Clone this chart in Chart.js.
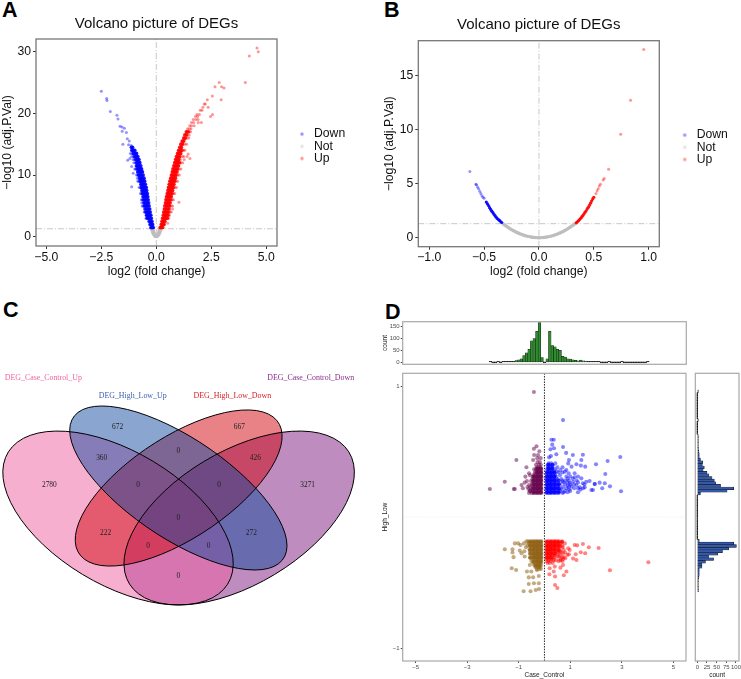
<!DOCTYPE html>
<html><head><meta charset="utf-8">
<script src="https://cdn.jsdelivr.net/npm/chart.js@4"></script>
<style>
html,body{margin:0;padding:0;background:#fff;width:741px;height:679px;overflow:hidden}
canvas{position:absolute;display:block}
.tag{position:absolute;font:bold 21.5px/1 "Liberation Sans",Arial,sans-serif;color:#000}
</style></head><body>
<div class="tag" style="left:2px;top:0">A</div>
<div class="tag" style="left:384px;top:0">B</div>
<div class="tag" style="left:3px;top:300px">C</div>
<div class="tag" style="left:385px;top:302px">D</div>
<script>
// ---------- Panel A (rows are [y, x, x, ...]) ----------
const volcanoTitle = 'Volcano picture of DEGs';
const aTicksX = [-5, -2.5, 0, 2.5, 5];
const aTicksY = [0, 10, 20, 30];
const aCutoff = 1.3;
const aDownCoreRows = [[1.5,-.14,-.19,-.24],[2,-.17,-.22,-.28],[2.5,-.2,-.26,-.32],[3,-.23,-.29,-.35,-.41],[3.5,-.25,-.31,-.38,-.44],[4,-.28,-.34,-.41,-.47],[4.5,-.3,-.37,-.44,-.51],[5,-.33,-.4,-.47,-.54],[5.5,-.35,-.42,-.49,-.56],[6,-.37,-.44,-.51,-.58],[6.5,-.39,-.46,-.53,-.6],[7,-.41,-.48,-.55,-.62],[7.5,-.44,-.51,-.58,-.65],[8,-.46,-.53,-.6,-.67],[8.5,-.5,-.57,-.64,-.7],[9,-.53,-.6,-.67,-.73],[9.5,-.56,-.63,-.7,-.76],[10,-.6,-.67,-.74,-.8],[10.5,-.63,-.7,-.77,-.84],[11,-.67,-.74,-.81,-.87],[11.5,-.71,-.78,-.85,-.9],[12,-.75,-.82,-.89],[12.5,-.79,-.86,-.93],[13,-.84,-.91,-.98],[13.5,-.9,-.97,-1.04],[14,-.98,-1.05,-1.11],[14.5,-1.08,-1.13]];
const aDownRows = [[23.6,-2.5],[22.4,-2.26],[22.1,-2.24],[20.3,-2.09],[19.7,-1.79],[19.1,-1.74],[17.9,-1.65],[17.8,-1.56],[17.6,-1.45],[17.1,-1.55],[16.9,-1.36],[15.9,-1.32],[15.5,-1.23],[15,-1.52],[14.9,-1.26],[14.8,-1.14],[12.4,-1.3],[12.7,-1.2],[11.4,-1.12],[10.3,-1.05],[8.1,-1.12],[9.5,-.86],[7,-.62],[3,-.47],[4,-.52,-.55],[5,-.6,-.64],[5.5,-.66],[6,-.64,-.68],[7,-.68,-.72],[8,-.73,-.78],[9,-.8,-.84],[10,-.86,-.9],[11,-.94,-.98],[12,-.96,-1.02],[12.5,-1,-1.06],[13,-1.05,-1.12],[13.5,-1.1,-1.18]];
const aUpCoreRows = [[1.5,.18,.23,.29],[2,.23,.29,.35],[2.5,.26,.32,.39],[3,.29,.36,.43,.5],[3.5,.32,.39,.46,.53],[4,.34,.41,.48,.55],[4.5,.37,.44,.51,.58],[5,.39,.46,.53,.6],[5.5,.42,.49,.56,.63],[6,.44,.51,.58,.65],[6.5,.47,.54,.61,.68],[7,.5,.57,.64,.71],[7.5,.53,.6,.67,.74],[8,.56,.63,.7,.77],[8.5,.59,.66,.73,.8],[9,.62,.69,.76,.83],[9.5,.66,.73,.8,.87],[10,.69,.76,.83,.9],[10.5,.73,.8,.87,.94],[11,.76,.83,.9,.97],[11.5,.8,.87,.94,1.01],[12,.84,.91,.98,1.05],[12.5,.88,.95,1.02],[13,.92,.99,1.06],[13.5,.97,1.04,1.11],[14,1.02,1.09,1.16],[14.5,1.07,1.14],[15,1.12,1.19],[15.5,1.18,1.25],[16,1.25,1.32],[16.5,1.3,1.38],[17,1.37,1.45]];
const aUpRows = [[2.2,.52],[3,.56],[3.5,.6],[4,.63,.68],[4.5,.74],[5,.68,.74],[5.6,1.03],[6,.72,.78],[7,.78,.84],[8,.85,.92],[9,.9,.97],[10,.98,1.05],[11,1.04,1.12],[12,1.12,1.2],[12.5,1.1,1.27],[12.7,1.53],[13,1.18,1.25,1.4],[13.4,1.45],[14,1.24,1.3],[15,1.3,1.38],[16,1.4,1.48],[16.5,1.5],[17,1.5,1.56],[17.5,1.42,1.5,1.58],[18,1.52,1.6,1.72],[18.5,1.6,1.7,1.91,2.05],[19,1.68,1.8,1.9],[19.5,1.78,1.88,2.47],[19.8,1.85,1.96,2.56],[20.5,2,2.08],[21,2.12,2.36],[21.5,2.18,2.23],[22.2,2.32,2.95],[22.8,2.55],[24.3,2.67,2.97],[25,2.86,4.05],[24.1,3.08],[29.3,4.23],[30.6,4.58],[30,4.64]];
const aNotRows = [[1.25,-.22,.22,-.15,.15],[1.05,-.2,.2,-.13,.13],[.8,-.18,.18,-.11,.11],[.6,-.16,.16,-.09,.09],[.45,-.14,.14,-.07,.07],[.3,-.11,.11,-.04,.04],[.2,-.08,.08],[.1,-.06,.06],[.05,-.04,.04],[.02,-.02,.02],[0,0]];

// ---------- Panel B ----------
const bTicksX = [-1, -.5, 0, .5, 1];
const bTicksY = [0, 5, 10, 15];
const bCutoff = 1.3;
const bDownCoreRows = [[1.41,-.34],[1.5,-.35],[1.6,-.36],[1.68,-.37],[1.78,-.38],[1.9,-.39],[2.03,-.4],[2.17,-.41],[2.33,-.42],[2.46,-.43],[2.62,-.44],[2.78,-.45],[2.98,-.46],[3.15,-.47],[3.3,-.48]];
const bDownRows = [[3.65,-.5],[3.75,-.51],[3.9,-.52],[4.1,-.53],[4.3,-.54],[4.55,-.55],[4.7,-.56],[4.9,-.57],[4.95,-.575],[6.15,-.63]];
const bUpCoreRows = [[1.38,.34],[1.47,.35],[1.57,.36],[1.68,.37],[1.8,.38],[1.93,.39],[2.05,.4],[2.2,.41],[2.35,.42],[2.5,.43],[2.68,.44],[2.82,.45],[3,.46],[3.2,.47],[3.4,.48],[3.6,.49],[3.75,.5]];
const bUpRows = [[4.1,.52],[4.35,.53],[4.55,.54],[4.8,.55],[4.95,.56],[5.35,.585],[5.5,.595],[6.35,.635],[9.6,.745],[12.75,.835],[17.45,.955]];
const bNotRows = [[0,0,-.01,.01],[.01,-.02,.02,-.03,.03],[.02,-.04,.04],[.03,-.05,.05],[.04,-.06,.06],[.06,-.07,.07],[.08,-.08,.08],[.1,-.09,.09],[.12,-.1,.1],[.15,-.11,.11],[.17,-.12,.12],[.2,-.13,.13],[.24,-.14,.14],[.27,-.15,.15],[.31,-.16,.16],[.35,-.17,.17],[.39,-.18,.18],[.43,-.19,.19],[.48,-.2,.2],[.53,-.21,.21],[.58,-.22,.22],[.64,-.23,.23],[.69,-.24,.24],[.75,-.25,.25],[.81,-.26,.26],[.87,-.27,.27],[.94,-.28,.28],[1.01,-.29,.29],[1.08,-.3,.3],[1.15,-.31,.31],[1.23,-.32,.32],[1.31,-.33,.33]];

// ---------- Panel C ----------
const vennSets = ['DEG_Case_Control_Down','DEG_Case_Control_Up','DEG_High_Low_Down','DEG_High_Low_Up'];
const vennCounts = [2780,672,667,3271,360,426,0,0,0,0,222,272,0,0,0];
const vennCountX = [1.117,2.664,5.419,6.966,2.302,5.781,4.038,3.125,4.958,4.038,2.392,5.691,3.351,4.725,4.038];
const vennCountY = [4.95,6.68,6.68,4.95,5.77,5.77,5.96,4.95,4.95,3.95,3.5,3.5,3.13,3.13,2.22];
const vennEllipseX = [5.415,2.672,4.045,4.038];
const vennEllipseY = [3.96,3.96,4.86,4.86];
const vennEllipseA = [3.22,3.22,3.02,3.21];
const vennEllipseB = [1.8,1.8,1.36,1.34];
const vennEllipseTurn = [-45,45,-45,45];
const vennFill = ['rgba(125,25,125,.5)','rgba(239,95,161,.5)','rgba(209,5,15,.5)','rgba(21,75,161,.5)'];
const vennText = ['#8B2C8B','#F064A0','#D8202A','#3A5FB0'];
const vennSetX = [7.034,.981,5.26,3.004];
const vennSetY = [8.15,8.15,7.63,7.63];

// ---------- Panel D ----------
const dTicksX = [-5,-3,-1,1,3,5];
const dTicksY = [-1,1];
const dUpRightRows = [[.74,.72],[.59,.27,.36],[.553,.3],[.535,.72],[.525,.37],[.517,.23],[.49,.84],[.48,.46],[.476,1.49],[.474,1.1],[.466,.25],[.459,2.94],[.456,.18],[.436,.95,1.43],[.428,2.45],[.41,.16,.26,.42,.92],[.403,1.24,2],[.393,1.41],[.385,1.05,1.58],[.395,.12,.2,.32],[.38,.14,.22,.3,.5,.7],[.365,.1,.18,.26,.4],[.36,.62,.85],[.35,.12,.2,.28,.36,.48],[.347,.79],[.34,.55,.7],[.335,.09,.16,.24,.32,.4,.94,1.17],[.329,2.36],[.32,.1,.18,.25,.33,.42,.6],[.31,.85,1,1.3],[.304,1.17],[.305,.08,.15,.22,.29,.37,.45],[.296,1.43],[.295,.9,1.1],[.29,.1,.17,.24,.31,.38,.5,.66],[.28,.8,.95,1.25],[.276,1.75],[.275,.08,.14,.2,.28,.36,.44,.7],[.27,1.11,1.62],[.265,.72,.88,1.3],[.263,2.14],[.26,.1,.17,.24,.31,.39,.47,.56,.98],[.258,1.49,2.34],[.253,1.95,1.95],[.25,.8,1,1.15,1.55],[.245,.08,.14,.2,.26,.34,.42,.5,.6,1.24],[.24,.9],[.235,2.54],[.233,1.05],[.23,.1,.16,.22,.29,.36,.43,.52,.72,.95],[.228,1.37,1.56],[.22,2.24,.85,1.15,1.3,1.5],[.215,.08,.13,.2,.27,.33,.4,.5,.58,.66],[.21,.95,1.4],[.207,1.82,1.88],[.2,.1,.17,.23,.3,.36,.44,.52,.6,.8,1],[.197,2.97],[.19,.75,.9,1.3],[.185,.08,.14,.2,.26,.33,.4,.47,.55,.7]];
const dUpRightCoreRows = [[.19,.1,.25,.4,.55],[.22,.1,.25,.4,.55],[.25,.1,.25,.4,.55],[.28,.1,.25,.4,.55],[.31,.1,.25,.38],[.34,.1,.25,.38],[.37,.15,.3],[.4,.15,.3]];
const dUpLeftRows = [[.954,-.41],[.54,-.31],[.522,-.41],[.502,-.2],[.474,-.4,-.25],[.45,-.15,-.28],[.436,-.44,-1.09],[.42,-.18,-.27],[.4,-.14,-.21,-.33],[.38,-.16,-.23,-.3,-.7],[.365,-.13,-.19,-.25,-.32,-.4],[.35,-.14,-.21,-.28,-.35],[.335,-.12,-.18,-.24,-.31,-.38,-.6],[.32,-.14,-.2,-.27,-.34,-.42,-.56],[.309,-.74],[.305,-.12,-.17,-.23,-.29,-.36,-.44],[.29,-.14,-.2,-.26,-.32,-.38,-.47],[.275,-.12,-.17,-.23,-.29,-.35,-.43,-.52,-.68],[.27,-1.54],[.263,-.77],[.26,-.14,-.2,-.26,-.32,-.38,-.46],[.245,-.12,-.17,-.23,-.29,-.35,-.42,-.5,-.6,-.89],[.23,-.14,-.2,-.26,-.32,-.38,-.45,-.55,-.66],[.22,-.84],[.215,-.12,-.17,-.23,-.29,-.36,-.44,-.52,-.62,-1.15,-1.19,-2.12],[.2,-.14,-.2,-.26,-.33,-.4,-.47,-.55,-.57],[.185,-.12,-.18,-.24,-.3,-.36,-.43,-.5,-.6]];
const dUpLeftCoreRows = [[.19,-.14,-.28,-.42],[.22,-.14,-.28,-.42],[.25,-.14,-.28,-.42],[.28,-.14,-.28,-.42],[.31,-.14,-.28,-.42],[.34,-.14,-.28],[.37,-.14,-.28]];
const dDownLeftRows = [[-.185,-.12,-.18,-.24,-.3,-.36,-.42,-.48,-.55,-.63,-.7],[-.2,-.14,-.2,-.26,-.32,-.38,-.44,-.52,-.6,-.8,-1.02,-1.15],[-.212,-.93],[-.215,-.12,-.18,-.24,-.3,-.36,-.42,-.48,-.55,-.66],[-.23,-.14,-.2,-.26,-.32,-.38,-.44,-.52,-.72],[-.245,-.12,-.18,-.24,-.3,-.36,-.42,-.5,-.58,-1.24,-1.54],[-.255,-.96],[-.26,-.14,-.2,-.26,-.32,-.38,-.45,-.55,-.78],[-.27,-1.24],[-.275,-.12,-.18,-.24,-.3,-.36,-.43,-.52,-.89],[-.29,-.14,-.2,-.26,-.32,-.38,-.46],[-.3,-.77],[-.305,-.12,-.18,-.24,-.3,-.36,-.44,-.53,-1.2],[-.32,-.14,-.2,-.26,-.32,-.39,-.47],[-.335,-.13,-.18,-.24,-.3,-.37,-.51],[-.35,-.15,-.21,-.27,-.34,-.44],[-.365,-.13,-.19,-.25,-.31,-.4,-.57],[-.38,-.16,-.22,-.28,-.36],[-.39,-1.27],[-.395,-.14,-.2,-.3],[-.403,-1.1,-.29],[-.415,-.68,-.51],[-.449,-.22],[-.459,-.44,-.61],[-.504,-.41,-.22],[-.51,-.61],[-.548,-.21],[-.555,-.34],[-.565,-.81,-.54]];
const dDownLeftCoreRows = [[-.19,-.14,-.28,-.42,-.56],[-.22,-.14,-.28,-.42,-.56],[-.25,-.14,-.28,-.42,-.56],[-.28,-.14,-.28,-.42,-.56],[-.31,-.14,-.28,-.42,-.56],[-.34,-.14,-.28,-.42],[-.37,-.2,-.34]];
const dDownRightRows = [[-.185,.08,.14,.2,.26,.32,.38,.44,.5,.56,.68],[-.2,.1,.17,.23,.29,.35,.41,.47,.53,.62,.79],[-.205,1.49],[-.212,1.17],[-.215,.08,.14,.2,.26,.32,.38,.44,.5,.58,1.27],[-.22,.62,.7],[-.23,.1,.16,.22,.28,.34,.4,.47,.55,.7,1.72],[-.235,2.1],[-.238,.92],[-.245,.08,.14,.2,.26,.32,.38,.44],[-.25,.98,.52,.6,.75],[-.26,.1,.16,.22,.29,.36,.45,.6],[-.268,1.41],[-.27,.5,.65,.8],[-.275,.08,.14,.2,.27,.34,.42,.55,.72,1.58],[-.283,.95,1.21],[-.288,.89],[-.29,.1,.17,.24,.32,.4,.6],[-.3,.55,.5],[-.305,.08,.15,.22,.3,.38,.68,.75],[-.314,.81],[-.316,1.11],[-.32,.1,.18,.26,.36,.62,.72],[-.327,1.24],[-.33,.35,.45,.62],[-.335,.08,.15,.24,.55,.7],[-.344,4.03],[-.35,.12,.2,.32],[-.365,.72],[-.377,.4],[-.385,.62],[-.39,.2],[-.405,2.54],[-.415,.36,.85],[-.436,.19],[-.443,.75],[-.453,.41],[-.517,.41],[-.54,.5]];
const dDownRightCoreRows = [[-.19,.1,.25,.4,.55,.68],[-.22,.1,.25,.4,.55],[-.25,.1,.25,.4,.55],[-.28,.1,.25,.4],[-.31,.1,.25]];
const histTopBins   = [-2.1,-2,-1.9,-1.8,-1.7,-1.6,-1.5,-1.4,-1.3,-1.2,-1.1,-1,-.9,-.8,-.7,-.6,-.5,-.4,-.3,-.2,-.1,0,.1,.2,.3,.4,.5,.6,.7,.8,.9,1,1.1,1.2,1.3,1.4,1.5,1.6,1.7,1.8,1.9,2,2.1,2.2,2.3,2.4,2.5,2.6,2.7,2.8,2.9,3,3.1,3.2,3.3,3.4,3.5,3.6,3.7,3.8,3.9,4];
const histTopCounts = [1,0,0,1,0,1,3,3,3,4,7,10,15,28,40,55,90,100,130,167,20,0,15,130,70,65,55,50,25,22,15,14,10,8,6,9,6,5,3,3,3,3,2,0,0,0,2,0,0,0,0,1,0,0,0,0,0,0,0,0,0,1];
const histTopTicks = [0,50,100,150];
const histRightBins   = [-.56,-.54,-.52,-.5,-.48,-.46,-.44,-.42,-.4,-.38,-.36,-.34,-.32,-.3,-.28,-.26,-.24,-.22,-.2,-.18,-.16,-.14,-.12,-.1,-.08,-.06,-.04,-.02,0,.02,.04,.06,.08,.1,.12,.14,.16,.18,.2,.22,.24,.26,.28,.3,.32,.34,.36,.38,.4,.42,.44,.46,.48,.5,.52,.54,.56,.58,.6,.62,.64,.66,.68,.7,.72,.74,.76,.78,.8,.82,.84,.86,.88,.9,.92,.94,.96];
const histRightCounts = [3,1,2,2,2,4,5,5,5,12,12,21,42,29,53,65,81,101,94,5,0,0,0,0,0,0,0,0,0,0,0,0,0,0,0,0,0,8,77,94,60,48,44,38,30,25,15,18,13,14,8,5,5,4,3,2,2,2,2,1,0,0,0,0,0,1,0,0,0,0,0,0,0,0,0,0,1];
const histRightTicks = [0,25,50,75,100];

// ---------- helpers ----------
const SANS = '"Liberation Sans",Arial,sans-serif';
const SERIF = '"Liberation Serif","Times New Roman",serif';
Chart.defaults.animation = false;
Chart.defaults.responsive = false;
Chart.defaults.font.family = SANS;
const pts = rows => rows.flatMap(([y, ...xs]) => xs.map(x => ({x, y})));
const fmt1 = v => (v < 0 ? '\u2212' : '') + Math.abs(v).toFixed(1);
const fmtM = v => (v < 0 ? '\u2212' : '') + Math.abs(v);
function dot(color, r) {
  const c = document.createElement('canvas'); c.width = c.height = 6;
  const g = c.getContext('2d'); g.fillStyle = color; g.beginPath(); g.arc(3, 3, r, 0, 7); g.fill();
  return c;
}
const boxPlugin = (color, w) => ({ id:'box', afterDatasetsDraw(ch) {
  const a = ch.chartArea, g = ch.ctx; g.save(); g.strokeStyle = color; g.lineWidth = w;
  g.strokeRect(a.left, a.top, a.right - a.left, a.bottom - a.top); g.restore(); }});
const legendAt = (x, y) => ({ id:'legendAt', afterLayout(ch) {
  const l = ch.legend; l.left = x; l.right = x + 100; l.top = y; l.bottom = y + 60; l.width = 100; l.height = 60; }});
function place(r) {
  const c = document.createElement('canvas');
  c.width = r.R - r.L; c.height = r.B - r.T;
  c.style.left = r.L + 'px'; c.style.top = r.T + 'px';
  c.style.width = (r.R - r.L) + 'px'; c.style.height = (r.B - r.T) + 'px';
  document.body.appendChild(c); return c;
}
function axis(cfg) {
  return {
    type:'linear', min:cfg.min, max:cfg.max, offset:false, display:cfg.display !== false,
    afterBuildTicks(s){ if (cfg.ticks) s.ticks = cfg.ticks.map(value => ({value})); },
    afterFit(s){ if (cfg.size != null) { if (s.isHorizontal()) s.height = cfg.size; else s.width = cfg.size;
      s.paddingLeft = s.paddingRight = s.paddingTop = s.paddingBottom = 0; } },
    border:{display:false},
    grid:{offset:false, drawOnChartArea:false, drawTicks:true, tickLength:cfg.tick, color:cfg.tickColor, lineWidth:cfg.tickW || 1},
    ticks:{autoSkip:false, maxRotation:0, minRotation:0, padding:cfg.pad, color:cfg.color,
      font:{size:cfg.font, family:SANS}, callback:cfg.format},
    title:{display:!!cfg.title, text:cfg.title, color:cfg.titleColor, font:{size:cfg.titleFont, family:SANS, lineHeight:1.2}, padding:0}
  };
}
const refLine = (x0,y0,x1,y1,color,dash,w,order) => ({ data:[{x:x0,y:y0},{x:x1,y:y1}], showLine:true, pointRadius:0,
  borderColor:color, borderWidth:w, borderDash:dash, order });

function volcano(rect, area, titlePad, xr, yr, tx, ty, cut, down, downCore, not, up, upCore, lg, xFmt, notR, coreR) {
  const dataset = (label, color, data, order, r) => ({ label, data, backgroundColor:color, pointRadius:r || 1.5, pointBorderWidth:0, order });
  new Chart(place(rect), {
    type:'scatter',
    data:{datasets:[
      dataset('Down','rgba(0,0,255,.42)',pts(down),1),
      dataset('Not','rgba(190,190,190,.9)',pts(not),2,notR),
      dataset('Up','rgba(255,0,0,.42)',pts(up),1),
      dataset(undefined,'rgba(0,0,255,.92)',pts(downCore),0,coreR),
      dataset(undefined,'rgba(255,0,0,.92)',pts(upCore),0,coreR),
      refLine(0,yr[0],0,yr[1],'#c8c8c8',[6,2,1,2],1,3),
      refLine(xr[0],cut,xr[1],cut,'#c8c8c8',[6,2,1,2],1,3)
    ]},
    options:{
      layout:{padding:{left:0,top:0,right:rect.R-area.R,bottom:0}},
      scales:{
        x:axis({min:xr[0],max:xr[1],ticks:tx,size:rect.B-area.B,tick:3,tickColor:'#333',pad:1,color:'#111',font:12.2,format:xFmt,title:'log2 (fold change)',titleColor:'#111',titleFont:12.2}),
        y:axis({min:yr[0],max:yr[1],ticks:ty,size:area.L-rect.L,tick:3,tickColor:'#333',pad:2,color:'#111',font:12.2,format:fmtM,title:'\u2212log10 (adj.P.Val)',titleColor:'#111',titleFont:12.2})
      },
      plugins:{
        tooltip:{enabled:false},
        title:{display:true,text:volcanoTitle,fullSize:false,color:'#111',font:{size:15,family:SANS,weight:'normal',lineHeight:1.2},padding:titlePad},
        legend:{position:'chartArea',align:'start',labels:{boxWidth:11.8,boxHeight:11.8,usePointStyle:true,padding:0,color:'#111',font:{size:12.2,family:SANS,lineHeight:1},
          generateLabels(ch){ return Chart.defaults.plugins.legend.labels.generateLabels(ch).filter(i=>i.text)
            .sort((p,q)=>p.datasetIndex-q.datasetIndex)
            .map(i=>({...i,pointStyle:dot(i.text==='Not'?'rgba(190,190,190,.45)':i.fillStyle,1.7),lineWidth:0})); }}}
      }
    },
    plugins:[boxPlugin('#777',1.3), legendAt(lg[0],lg[1])]
  });
}

// ---------- A, B ----------
volcano({L:0,T:0,R:370,B:279},{L:36,R:277,B:246},{top:15,bottom:6},[-5.47,5.49],[-1.5,32.05],aTicksX,aTicksY,aCutoff,aDownRows,aDownCoreRows,aNotRows,aUpRows,aUpCoreRows,[296.1,128],fmt1,1.5,1.85);
volcano({L:382,T:0,R:741,B:279},{L:418.3,R:659.3,B:246.7},{top:16,bottom:6.7},[-1.1,1.097],[-.835,18.27],bTicksX,bTicksY,bCutoff,bDownRows,bDownCoreRows,bNotRows,bUpRows,bUpCoreRows,[296.8,129],fmt1,1.7,1.6);

// ---------- C ----------
new Chart(place({L:0,T:350,R:370,B:650}), {
  type:'scatter',
  data:{datasets:[{label:'Venn counts',data:vennCounts.map((v,i)=>({x:vennCountX[i],y:vennCountY[i],count:v})),pointRadius:0}]},
  options:{
    layout:{padding:0},
    scales:{x:{type:'linear',min:0,max:8.377,display:false},y:{type:'linear',min:0,max:9,display:false}},
    plugins:{legend:{display:false},tooltip:{enabled:false}}
  },
  plugins:[{id:'venn',afterDatasetsDraw(ch){
    const g=ch.ctx, X=ch.scales.x, Y=ch.scales.y;
    const sx=Math.abs(X.getPixelForValue(1)-X.getPixelForValue(0)), sy=Math.abs(Y.getPixelForValue(1)-Y.getPixelForValue(0));
    const path=i=>{
      g.save();
      g.translate(X.getPixelForValue(vennEllipseX[i]),Y.getPixelForValue(vennEllipseY[i]));
      g.scale(sx,sy); g.rotate(vennEllipseTurn[i]*Math.PI/180);
      g.beginPath(); g.ellipse(0,0,vennEllipseA[i],vennEllipseB[i],0,0,Math.PI*2);
      g.restore();
    };
    g.save();
    vennSets.forEach((s,i)=>{ path(i); g.fillStyle=vennFill[i]; g.fill(); });
    vennSets.forEach((s,i)=>{ path(i); g.strokeStyle='#000'; g.lineWidth=1; g.stroke(); });
    g.textAlign='center'; g.textBaseline='middle';
    g.font='7.4px '+SERIF; g.fillStyle='#222';
    vennCounts.forEach((v,i)=>g.fillText(String(v),X.getPixelForValue(vennCountX[i]),Y.getPixelForValue(vennCountY[i])));
    g.font='7.9px '+SERIF;
    vennSets.forEach((s,i)=>{g.fillStyle=vennText[i];g.fillText(s,X.getPixelForValue(vennSetX[i]),Y.getPixelForValue(vennSetY[i]));});
    g.restore();
  }}]
});

// ---------- D ----------
const dGrey='#4d4d4d', dBox='#a8a8a8';
const dXRange=[-5.5,5.49], dYRange=[-1.097,1.097];
new Chart(place({L:381,T:316,R:690,B:366}), {
  type:'bar',
  data:{datasets:[
    {data:histTopBins.map((x,i)=>({x,y:histTopCounts[i]})),backgroundColor:c=>(c.raw&&c.raw.y<5?'#222':'#2E8B2E'),borderColor:'#1a1a1a',borderWidth:.5,borderSkipped:false,barPercentage:1,categoryPercentage:1,minBarLength:1}
  ]},
  options:{
    layout:{padding:{left:0,top:5.7,right:690-686.3,bottom:366-364.3}},
    scales:{
      x:{type:'linear',min:dXRange[0],max:dXRange[1],offset:false,display:false},
      y:axis({min:-8.4,max:171,ticks:histTopTicks,size:402.7-381,tick:2,tickColor:dGrey,pad:1,color:dGrey,font:6,format:fmtM,title:'count',titleColor:'#222',titleFont:6.5})
    },
    plugins:{legend:{display:false},tooltip:{enabled:false}}
  },
  plugins:[boxPlugin(dBox,1.2)]
});
const dots=(rows,color)=>({data:pts(rows),backgroundColor:color,pointRadius:2.05,pointBorderWidth:0,order:1});
new Chart(place({L:381,T:368,R:690,B:679}), {
  type:'scatter',
  data:{datasets:[
    dots(dUpRightRows,'rgba(0,0,255,.48)'),
    dots(dUpLeftRows,'rgba(105,10,80,.52)'),
    dots(dDownLeftRows,'rgba(145,100,25,.55)'),
    dots(dDownRightRows,'rgba(255,0,0,.48)'),
    dots(dUpRightCoreRows,'rgba(0,0,255,.8)'),
    dots(dUpLeftCoreRows,'rgba(105,10,80,.85)'),
    dots(dDownLeftCoreRows,'rgba(145,100,25,.85)'),
    dots(dDownRightCoreRows,'rgba(255,0,0,.8)'),
    refLine(0,dYRange[0],0,dYRange[1],'#333',[1.5,1.2],1.1,-1),
    refLine(dXRange[0],0,dXRange[1],0,'#e8e8e8',[1,1.5],.8,2)
  ]},
  options:{
    layout:{padding:{left:0,top:5.3,right:690-686.3,bottom:0}},
    scales:{
      x:axis({min:dXRange[0],max:dXRange[1],ticks:dTicksX,size:679-661,tick:2,tickColor:dGrey,pad:1,color:dGrey,font:6,format:fmtM,title:'Case_Control',titleColor:'#222',titleFont:6.5}),
      y:axis({min:dYRange[0],max:dYRange[1],ticks:dTicksY,size:402.7-381,tick:2,tickColor:dGrey,pad:1,color:dGrey,font:6,format:fmtM,title:'High_Low',titleColor:'#222',titleFont:6.5})
    },
    plugins:{legend:{display:false},tooltip:{enabled:false}}
  },
  plugins:[boxPlugin(dBox,1.2)]
});
new Chart(place({L:692,T:368,R:741,B:679}), {
  type:'bar',
  data:{datasets:[
    {data:histRightBins.map((y,i)=>({x:histRightCounts[i],y})),backgroundColor:c=>(c.raw&&c.raw.x<3?'#222':'#3558A8'),borderColor:'#111',borderWidth:.5,borderSkipped:false,barPercentage:1,categoryPercentage:1,minBarLength:1}
  ]},
  options:{
    indexAxis:'y',
    layout:{padding:{left:695.3-692,top:5.3,right:2,bottom:0}},
    scales:{
      x:axis({min:-5.2,max:107.8,ticks:histRightTicks,size:679-661,tick:2,tickColor:dGrey,pad:1,color:dGrey,font:6,format:fmtM,title:'count',titleColor:'#222',titleFont:6.5}),
      y:{type:'linear',min:dYRange[0],max:dYRange[1],offset:false,display:false}
    },
    plugins:{legend:{display:false},tooltip:{enabled:false}}
  },
  plugins:[boxPlugin(dBox,1.2)]
});
</script>
</body></html>
